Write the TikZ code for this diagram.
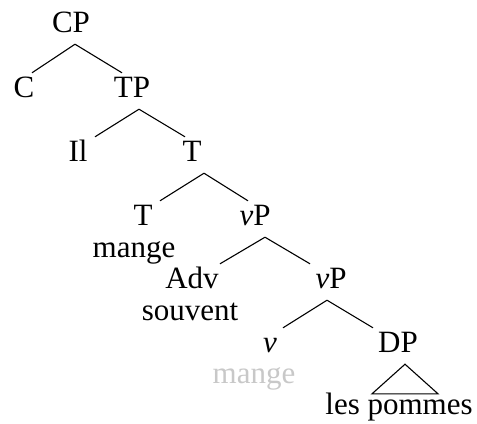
\documentclass[tikz,border=0pt]{standalone}
\usepackage{fontspec}
\setmainfont{Liberation Serif}
\definecolor{tracegray}{RGB}{200,200,200}

\begin{document}
\begin{tikzpicture}[x=1bp,y=-1bp,
	cat/.style={anchor=base,inner sep=0pt,text height=24bp,text depth=12bp,font=\fontsize{31bp}{37bp}\selectfont},
	word/.style={cat},
	trace/.style={cat,text=tracegray},
	branch/.style={line width=1.1bp}
]

	\useasboundingbox (0,0) rectangle (477,423);

	\node[cat] (CP) at (71,32) {CP};
	\node[cat] (C) at (24,97) {C};
	\node[cat] (TP) at (132,97) {TP};
	\node[cat] (Il) at (78,161) {Il};
	\node[cat] (Tbar) at (192,161) {T};
	\node[cat] (T) at (143,225) {T};
	\node[word] (mange) at (134,257) {mange};
	\node[cat] (vP) at (255,225) {\textit{v}P};
	\node[cat] (Adv) at (192,288) {Adv};
	\node[word] (souvent) at (190,320) {souvent};
	\node[cat] (vPbar) at (331,288) {\textit{v}P};
	\node[cat] (v) at (270,352) {\textit{v}};
	\node[trace] (mangetr) at (254,383) {mange};
	\node[cat] (DP) at (398,352) {DP};
	\node[word] (pommes) at (399,414) {les pommes};

	\foreach \p/\dp/\c/\dc in {CP/4/C/8, CP/4/TP/-10, TP/7/Il/17, TP/7/Tbar/-7,
		Tbar/12/T/17, Tbar/12/vP/-7, vP/10/Adv/28, vP/10/vPbar/-21,
		vPbar/-4/v/13, vPbar/-4/DP/-25}
		\draw[branch] ([xshift=\dp bp]\p.south) -- ([xshift=\dc bp]\c.north);

	\draw[branch] ([xshift=7bp]DP.south) -- ([xshift=-27bp,yshift=-4bp]pommes.north)
		-- ([xshift=39bp,yshift=-4bp]pommes.north) -- cycle;
\end{tikzpicture}
\end{document}
